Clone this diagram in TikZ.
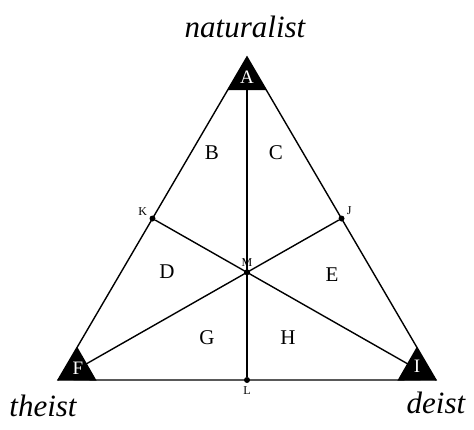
\documentclass[tikz,border=0pt]{standalone}
\usepackage{fontspec}
\setmainfont{Liberation Serif}
\usetikzlibrary{positioning}
\begin{document}
\begin{tikzpicture}[
  x=1pt, y=-1pt,
  every node/.style={inner sep=1pt},
  side/.style={black, line width=1.4pt},
  median/.style={black, line width=1.4pt},
  corner/.style={fill=black},
  cornerlbl/.style={text=white, font=\fontsize{19}{21}\selectfont},
  region/.style={font=\fontsize{21}{24}\selectfont},
  pointlbl/.style={font=\fontsize{12}{14}\selectfont},
  view/.style={font=\fontsize{31}{34}\selectfont\itshape},
  dot/.style={circle, fill=black, inner sep=0pt, minimum size=6pt},
]
  \useasboundingbox (0,0) rectangle (474,429);
  % Vertices and midpoints
  \coordinate (a) at (247,57);
  \coordinate (f) at (58,380);
  \coordinate (i) at (436,380);
  \node[dot] (k) at (152.5,218.5) {};
  \node[dot] (j) at (341.5,218.5) {};
  \node[dot] (m) at (247,272.3) {};
  \node[dot] (l) at (247,380) {};
  % Outer triangle
  \draw[side] (a) -- (f) -- (i) -- cycle;
  % Medians through M
  \draw[median] (a) -- (l);
  \draw[median] (k) -- (i);
  \draw[median] (j) -- (f);
  % Black corners
  \fill[corner] (a) -- (227.7,90) -- (266.3,90) -- cycle;
  \fill[corner] (f) -- (96.6,380.6) -- (77.3,347) -- cycle;
  \fill[corner] (i) -- (397.4,380.6) -- (416.7,347) -- cycle;
  \node[cornerlbl] (alb) at (247,77) {A};
  \node[cornerlbl] (flb) at (78,368) {F};
  \node[cornerlbl] (ilb) at (417,366) {I};
  % Regions
  \node[region] (b) at (212,153) {B};
  \node[region] (c) at (276,153) {C};
  \node[region] (d) at (167,272) {D};
  \node[region] (e) at (332,275) {E};
  \node[region] (g) at (207,338) {G};
  \node[region] (h) at (288,338) {H};
  % Point letters
  \node[pointlbl, above left=0pt and 2pt of k] (klb) {K};
  \node[pointlbl, above right=0pt and 2pt of j] (jlb) {J};
  \node[pointlbl, above=1pt of m] (mlb) {M};
  \node[pointlbl, below=2pt of l] (llb) {L};
  % Views
  \node[view] (nat) at (245,27) {naturalist};
  \node[view] (the) at (43,406) {theist};
  \node[view] (dei) at (436,403) {deist};
\end{tikzpicture}
\end{document}
